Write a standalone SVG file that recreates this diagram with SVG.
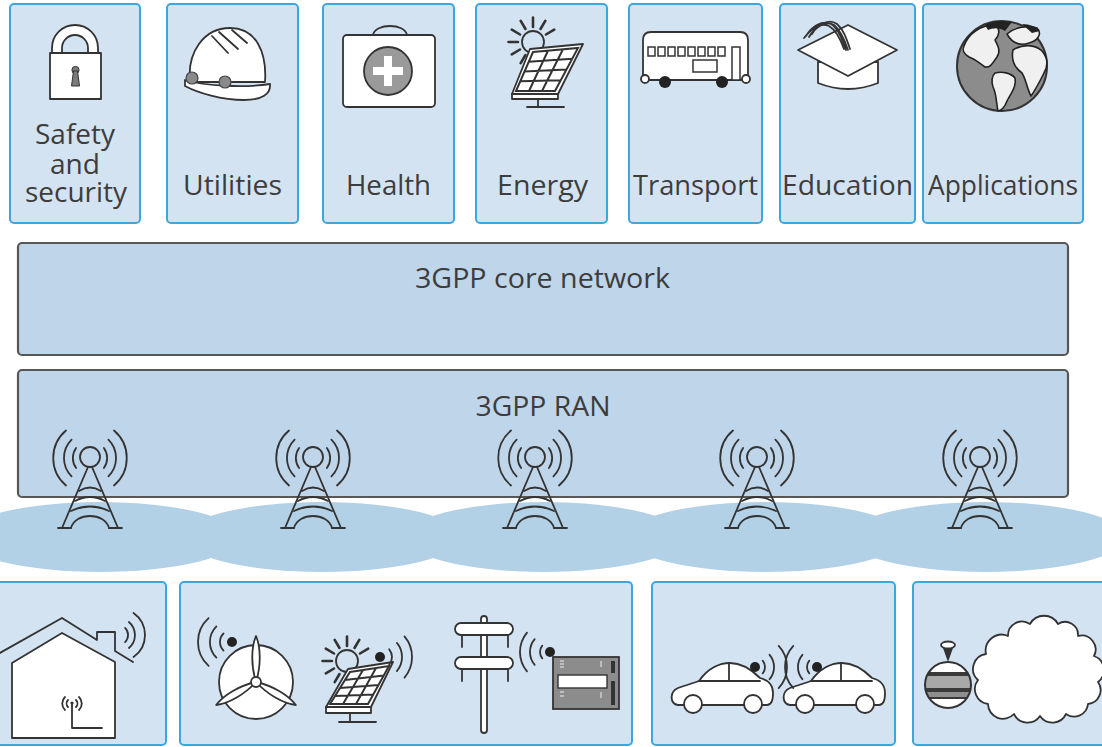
<svg xmlns="http://www.w3.org/2000/svg" width="1102" height="747" viewBox="0 0 1102 747">
  <style>
    .tile { fill: #d4e3f1; stroke: #3ba7dd; stroke-width: 2; }
    .layer { fill: #bfd5ea; stroke: #575757; stroke-width: 2.2; }
    .cell { fill: #b2d1e6; }
    .lbl { font-family: "Open Sans", "Liberation Sans", sans-serif; font-size: 28px; fill: #3d3d3d; text-anchor: middle; }
    .ln { fill: none; stroke: #333; stroke-width: 1.8; stroke-linecap: round; stroke-linejoin: round; }
    .wh { fill: #fff; stroke: #333; stroke-width: 1.8; stroke-linejoin: round; }
    .dot { fill: #222; }
    .ray { fill: none; stroke: #333; stroke-width: 2.6; stroke-linecap: round; }
  </style>
  <defs>
    <!-- radio mast, drawn around x = 0 -->
    <g id="tower" class="ln" stroke-width="1.7">
      <circle cx="0" cy="457" r="10"/>
      <path d="M-13.9,448 A17,17 0 0 0 -13.9,468 M13.9,448 A17,17 0 0 1 13.9,468"/>
      <path d="M-18.4,439.6 A26,26 0 0 0 -18.4,476.4 M18.4,439.6 A26,26 0 0 1 18.4,476.4"/>
      <path d="M-24,430.5 A36,36 0 0 0 -24,485.5 M24,430.5 A36,36 0 0 1 24,485.5"/>
      <path d="M-2,467 L-28,528 M2,467 L28,528 M-32,528 H-19 M19,528 H32"/>
      <path d="M-11,491 Q0,484 11,491 M-15,501 Q0,493 15,501 M-19,511 Q0,502 19,511 M-19,528 C-15,512 15,512 19,528"/>
    </g>
    <!-- sun with rays, centred on 0,0 -->
    <g id="sun">
      <circle class="ln" cx="0" cy="0" r="11" stroke-width="2"/>
      <path class="ray" d="M13.0,-7.5 L21.2,-12.3 M7.5,-13.0 L12.3,-21.2 M0,-15 L0,-24.5 M-7.5,-13.0 L-12.3,-21.2 M-13.0,-7.5 L-21.2,-12.3 M-15,0 L-24.5,0 M-13.0,7.5 L-21.2,12.3 M-7.5,13.0 L-12.3,21.2"/>
    </g>
    <clipPath id="ballClip"><circle cx="948" cy="685" r="23"/></clipPath>
  </defs>

  <!-- coverage cells under the radio access network -->
  <g id="coverage">
    <ellipse class="cell" cx="100" cy="537" rx="139" ry="35"/>
    <ellipse class="cell" cx="322" cy="537" rx="139" ry="35"/>
    <ellipse class="cell" cx="544" cy="537" rx="139" ry="35"/>
    <ellipse class="cell" cx="765" cy="537" rx="139" ry="35"/>
    <ellipse class="cell" cx="986" cy="537" rx="139" ry="35"/>
  </g>

  <!-- application domains -->
  <g id="safety">
    <rect class="tile" x="10" y="4" width="130" height="219" rx="4"/>
    <path class="wh" stroke-width="1.6" d="M52,53 V48 A23,23 0 0 1 98,48 V53 H88 V48 A13,13 0 0 0 62,48 V53 Z"/>
    <rect class="wh" stroke-width="1.6" x="50" y="53" width="51" height="46"/>
    <circle cx="75.5" cy="70" r="3.6" fill="#7a7a7a" stroke="#333" stroke-width="1"/>
    <path d="M73.5,71 L71.5,86 H79.5 L77.5,71 Z" fill="#7a7a7a" stroke="#333" stroke-width="1"/>
    <text class="lbl" x="75" y="144" textLength="80" lengthAdjust="spacingAndGlyphs">Safety</text>
    <text class="lbl" x="75" y="174" textLength="50" lengthAdjust="spacingAndGlyphs">and</text>
    <text class="lbl" x="76" y="202" textLength="102" lengthAdjust="spacingAndGlyphs">security</text>
  </g>

  <g id="utilities">
    <rect class="tile" x="167" y="4" width="131" height="219" rx="4"/>
    <path class="wh" d="M190,82 C187,52 204,28 230,28 C256,28 267,52 265,82 Z"/>
    <path class="wh" d="M185,80 C205,86 245,88 270,84 C271,94 262,100 244,100 C222,100 198,93 185,86 Z"/>
    <path class="ln" stroke-width="3" d="M212,36 L228,53 M219,32 L238,49 M232,30 L247,43"/>
    <circle cx="192" cy="78" r="6" fill="#8a8a8a" stroke="#444" stroke-width="1.2"/>
    <circle cx="225" cy="82" r="6" fill="#8a8a8a" stroke="#444" stroke-width="1.2"/>
    <text class="lbl" x="232.5" y="195" textLength="99" lengthAdjust="spacingAndGlyphs">Utilities</text>
  </g>

  <g id="health">
    <rect class="tile" x="323" y="4" width="131" height="219" rx="4"/>
    <path class="ln" d="M373,35 C375,23 405,23 407,35"/>
    <rect class="wh" x="343" y="35" width="92" height="72" rx="4"/>
    <circle cx="388" cy="71" r="24" fill="#9a9a9a" stroke="#333" stroke-width="1.8"/>
    <rect x="384" y="56" width="8" height="30" fill="#fff"/>
    <rect x="373" y="67" width="30" height="8" fill="#fff"/>
    <text class="lbl" x="388.5" y="195" textLength="85" lengthAdjust="spacingAndGlyphs">Health</text>
  </g>

  <g id="energy">
    <rect class="tile" x="476" y="4" width="131" height="219" rx="4"/>
    <use href="#sun" x="533" y="42"/>
    <path class="wh" d="M530,49 L583,44 L558,94 L512,94 Z"/>
    <path class="wh" d="M512,94 H558 V99 H512 Z"/>
    <path class="ln" stroke-width="2.4" d="M538,100 V107 M527,107 H564"/>
    <path fill="#fff" stroke="#333" stroke-width="2" d="M533,52 L578,48 L555,91 L516,91 Z M548,50.7 L529,91 M563,49.3 L542,91 M528.7,61.8 L572.2,58.8 M524.5,71.5 L566.5,69.5 M520.2,81.3 L560.8,80.3"/>
    <text class="lbl" x="542.5" y="195" textLength="91" lengthAdjust="spacingAndGlyphs">Energy</text>
  </g>

  <g id="transport">
    <rect class="tile" x="629" y="4" width="133" height="219" rx="4"/>
    <path class="wh" d="M643,80 V40 Q643,32 651,32 H740 Q748,32 748,40 V80 Z"/>
    <g fill="#fff" stroke="#333" stroke-width="1.5">
      <rect x="648" y="47" width="7" height="9"/><rect x="658" y="47" width="7" height="9"/>
      <rect x="668" y="47" width="7" height="9"/><rect x="678" y="47" width="7" height="9"/>
      <rect x="688" y="47" width="7" height="9"/><rect x="698" y="47" width="7" height="9"/>
      <rect x="708" y="47" width="7" height="9"/><rect x="718" y="47" width="7" height="9"/>
      <rect x="693" y="60" width="24" height="12"/>
      <rect x="732" y="47" width="8" height="33"/>
    </g>
    <circle cx="645" cy="79" r="4" class="wh" stroke-width="1.5"/>
    <circle cx="746" cy="79" r="4" class="wh" stroke-width="1.5"/>
    <circle cx="665" cy="82" r="6" class="dot"/>
    <circle cx="722" cy="82" r="6" class="dot"/>
    <text class="lbl" x="695.5" y="195" textLength="125" lengthAdjust="spacingAndGlyphs">Transport</text>
  </g>

  <g id="education">
    <rect class="tile" x="780" y="4" width="135" height="219" rx="4"/>
    <path class="wh" d="M818,62 V83 Q848,95 878,83 V62 Z"/>
    <path class="wh" d="M798,50 L848,25 L897,50 L848,76 Z"/>
    <path class="ln" stroke-width="1.2" d="M846,50 C842,38 838,28 831,24 C822,20 812,26 806,36 M848,50 C844,38 840,30 834,25 C826,20 815,27 809,37 M850,49 C846,37 843,29 837,24 C829,18 818,24 812,34 M844,49 C840,38 836,30 829,26 C820,22 811,29 804,38"/>
    <text class="lbl" x="847.5" y="195" textLength="131" lengthAdjust="spacingAndGlyphs">Education</text>
  </g>

  <g id="applications">
    <rect class="tile" x="923" y="4" width="160" height="219" rx="4"/>
    <circle cx="1002" cy="66" r="45" fill="#8c8c8c" stroke="#333" stroke-width="2"/>
    <g fill="#f0f0f0" stroke="#222" stroke-width="1.6" stroke-linejoin="round">
      <path d="M964,46 C968,34 980,25 995,25 C1001,29 999,36 995,40 C998,46 1001,51 997,57 C993,62 991,68 985,67 C979,63 975,59 969,57 C963,53 962,50 964,46 Z"/>
      <path d="M995,73 C1002,71 1011,73 1015,78 C1017,86 1011,93 1007,101 C1005,107 1001,111 998,111 C996,103 997,95 993,87 C991,80 992,76 995,73 Z"/>
      <path d="M1007,34 C1015,27 1027,25 1037,28 C1043,34 1037,41 1029,43 C1020,46 1012,43 1007,34 Z"/>
      <path d="M1013,50 C1022,44 1035,44 1042,51 C1048,58 1048,66 1044,73 C1040,81 1036,89 1031,96 C1027,89 1026,79 1022,73 C1015,68 1011,60 1013,50 Z"/>
    </g>
    <path d="M985,25 C992,21 1002,20 1012,22 L1005,31 C999,27 993,28 988,30 Z M1022,24 C1030,24 1036,27 1040,31 L1032,33 Z" fill="#222"/>
    <text class="lbl" x="1003" y="195" textLength="150" lengthAdjust="spacingAndGlyphs">Applications</text>
  </g>

  <!-- network layers -->
  <g id="core-network">
    <rect class="layer" x="18" y="243" width="1050" height="112" rx="4"/>
    <text class="lbl" x="542.5" y="288" textLength="255" lengthAdjust="spacingAndGlyphs">3GPP core network</text>
  </g>

  <g id="ran">
    <rect class="layer" x="18" y="370" width="1050" height="127" rx="4"/>
    <text class="lbl" x="543" y="416" textLength="135" lengthAdjust="spacingAndGlyphs">3GPP RAN</text>
  </g>

  <!-- masts linking the RAN to its cells -->
  <g id="connectors">
    <use href="#tower" x="90"/>
    <use href="#tower" x="313"/>
    <use href="#tower" x="535"/>
    <use href="#tower" x="757"/>
    <use href="#tower" x="980"/>
  </g>

  <!-- devices -->
  <g id="home">
    <rect class="tile" x="-4" y="582" width="170" height="163" rx="4"/>
    <path class="ln" d="M-2,654 L62,618 L97,640 V632 H115 V651 L133,662"/>
    <path class="wh" d="M12,738 V663 L62,633 L115,662 V738 Z"/>
    <path class="ln" d="M125.1,627.9 A10,10 0 0 1 125.1,642.1 M128.9,622 A17,17 0 0 1 128.9,648 M133.5,612.9 A27,27 0 0 1 133.5,657.1"/>
    <path class="ln" stroke-width="1.4" d="M72,704 V728 H102 M68,700 A5,5 0 0 0 68,707 M65,697 A9,9 0 0 0 65,710 M76,700 A5,5 0 0 1 76,707 M79,697 A9,9 0 0 1 79,710"/>
    <circle cx="72" cy="703" r="1.6" fill="#333"/>
  </g>

  <g id="grid">
    <rect class="tile" x="180" y="582" width="452" height="163" rx="4"/>
    <!-- wind turbine -->
    <circle class="wh" cx="256" cy="682" r="37"/>
    <g class="wh" stroke-width="1.6">
      <path d="M256,682 C251,666 251,648 256,636 C261,648 261,666 256,682 Z"/>
      <path d="M256,682 C251,666 251,648 256,636 C261,648 261,666 256,682 Z" transform="rotate(120 256 682)"/>
      <path d="M256,682 C251,666 251,648 256,636 C261,648 261,666 256,682 Z" transform="rotate(240 256 682)"/>
    </g>
    <circle class="wh" cx="256" cy="682" r="5" stroke-width="1.6"/>
    <circle class="dot" cx="232" cy="642" r="5"/>
    <path class="ln" d="M223.5,633.5 A12,12 0 0 0 223.5,650.5 M216.4,626.4 A22,22 0 0 0 216.4,657.6 M208.6,618.2 A32,32 0 0 0 208.6,665.8"/>
    <!-- solar panel -->
    <use href="#sun" x="347" y="661"/>
    <path class="wh" d="M348,669 L393,662 L371,707 L326,707 Z"/>
    <path class="wh" d="M326,707 H371 V713 H326 Z"/>
    <path class="ln" stroke-width="2.4" d="M350,714 V722 M339,722 H376"/>
    <path fill="#fff" stroke="#333" stroke-width="2" d="M350,672 L389,666 L368,704 L330,704 Z M363,670 L343,704 M376,668 L356,704 M345,680 L383.8,675.5 M340,688 L378.5,685 M335,696 L373.3,694.5"/>
    <circle class="dot" cx="380" cy="657" r="5"/>
    <path class="ln" d="M389.2,649.3 A12,12 0 0 1 389.2,664.7 M396.9,642.9 A22,22 0 0 1 396.9,671.1 M404.5,636.4 A32,32 0 0 1 404.5,677.6"/>
    <!-- power pole -->
    <rect class="wh" x="481" y="616" width="6" height="117" rx="3" stroke-width="1.6"/>
    <path class="ln" stroke-width="1.6" d="M462,635 V647 M508,635 V647 M462,669 V681 M508,669 V681"/>
    <rect class="wh" x="455" y="623" width="58" height="12" rx="6" stroke-width="1.6"/>
    <rect class="wh" x="455" y="657" width="58" height="12" rx="6" stroke-width="1.6"/>
    <!-- smart meter -->
    <circle class="dot" cx="550" cy="652" r="5"/>
    <path class="ln" d="M542.3,645.6 A10,10 0 0 0 542.3,658.4 M534.7,639.1 A20,20 0 0 0 534.7,664.9 M527,632.7 A30,30 0 0 0 527,671.3"/>
    <rect x="553" y="657" width="66" height="52" fill="#8c8c8c" stroke="#333" stroke-width="1.8"/>
    <rect x="558" y="675" width="49" height="13" fill="#fff" stroke="#333" stroke-width="1.4"/>
    <rect x="611" y="661" width="4" height="12" fill="#333"/>
    <rect x="611" y="681" width="4" height="24" fill="#333"/>
    <path stroke="#eee" stroke-width="1" d="M560,661 H564 M560,664 H564 M560,667 H564 M601,661 V667 M560,692 H564 M560,696 H564 M601,692 V698"/>
  </g>

  <g id="vehicles">
    <rect class="tile" x="652" y="582" width="243" height="163" rx="4"/>
    <g id="car">
      <path class="wh" d="M678,705 C670,704 669,692 678,688 C686,685 694,683 699,681 C708,668 720,663 730,663 C742,663 752,670 760,678 C768,680 773,684 773,693 C773,701 771,705 767,705 Z"/>
      <path class="ln" d="M699,681 H760 M729,663 V681"/>
      <circle class="wh" cx="693" cy="704" r="9"/>
      <circle class="wh" cx="753" cy="704" r="9"/>
    </g>
    <use href="#car" x="112"/>
    <circle class="dot" cx="755" cy="667" r="5"/>
    <circle class="dot" cx="817" cy="667" r="5"/>
    <path class="ln" d="M762.7,660.6 A10,10 0 0 1 762.7,673.4 M769.6,654.8 A19,19 0 0 1 769.6,679.2 M778.7,645.9 A31,31 0 0 1 778.7,688.1"/>
    <path class="ln" d="M809.3,660.6 A10,10 0 0 0 809.3,673.4 M802.4,654.8 A19,19 0 0 0 802.4,679.2 M793.3,645.9 A31,31 0 0 0 793.3,688.1"/>
  </g>

  <g id="environment">
    <rect class="tile" x="913" y="582" width="200" height="163" rx="4"/>
    <g clip-path="url(#ballClip)">
      <rect x="920" y="655" width="60" height="60" fill="#fff"/>
      <rect x="920" y="672" width="60" height="4" fill="#3a3a3a"/>
      <rect x="920" y="676" width="60" height="12" fill="#a8a8a8"/>
      <rect x="920" y="688" width="60" height="4" fill="#3a3a3a"/>
      <rect x="920" y="692" width="60" height="5" fill="#8f8f8f"/>
      <rect x="920" y="697" width="60" height="2" fill="#3a3a3a"/>
    </g>
    <circle cx="948" cy="685" r="23" fill="none" stroke="#333" stroke-width="2"/>
    <path d="M943,648 H953 L948,662 Z" fill="#333"/>
    <ellipse class="wh" cx="948" cy="645" rx="7" ry="3.5" stroke-width="1.6"/>
    <path class="wh" stroke-width="2" d="M988,704 A15,15 0 0 1 978,680 A15,15 0 0 1 986,654 A16,16 0 0 1 1008,636 A14,14 0 0 1 1030,624 A16,16 0 0 1 1058,624 A13,13 0 0 1 1078,636 A14,14 0 0 1 1094,656 A15,15 0 0 1 1098,682 A14,14 0 0 1 1088,704 A14,14 0 0 1 1066,714 A15,15 0 0 1 1040,716 A15,15 0 0 1 1014,714 A15,15 0 0 1 988,704 Z"/>
  </g>
</svg>
